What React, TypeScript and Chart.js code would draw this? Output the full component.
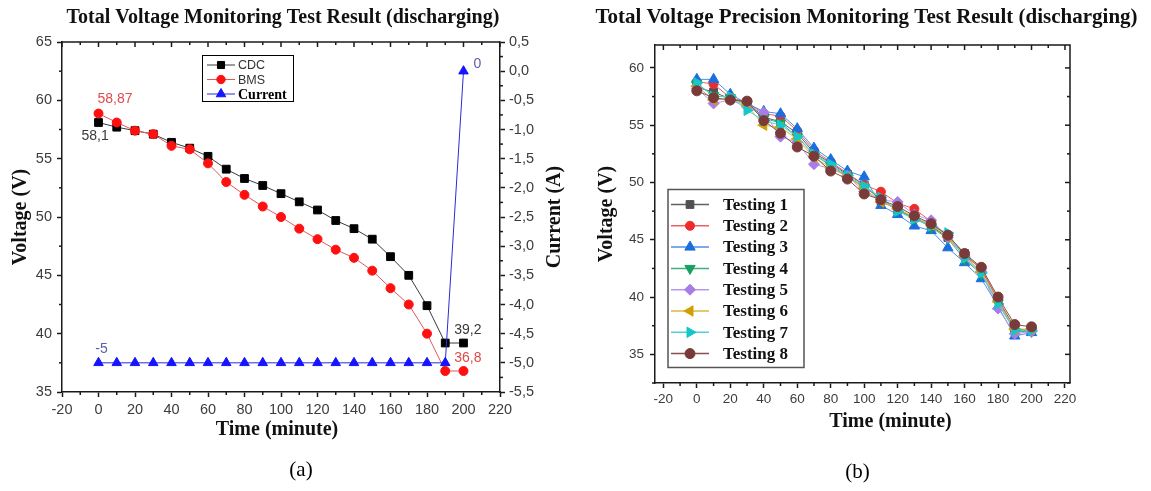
import React, { useEffect, useRef } from "react";
import { Chart, registerables } from "chart.js";

Chart.register(...registerables);

// ---------------- Panel (a) data ----------------
const timeMinutes = [0, 10, 20, 30, 40, 50, 60, 70, 80, 90, 100, 110, 120, 130, 140, 150, 160, 170, 180, 190, 200];
const cdcVoltage = [58.1, 57.7, 57.4, 57.1, 56.4, 55.9, 55.2, 54.1, 53.3, 52.7, 52.0, 51.3, 50.6, 49.7, 49.0, 48.1, 46.6, 45.0, 42.4, 39.2, 39.2];
const bmsVoltage = [58.87, 58.1, 57.4, 57.1, 56.1, 55.8, 54.6, 53.0, 51.9, 50.9, 50.0, 49.0, 48.1, 47.2, 46.5, 45.4, 43.9, 42.5, 40.0, 36.8, 36.8];
const currentAmps = [-5, -5, -5, -5, -5, -5, -5, -5, -5, -5, -5, -5, -5, -5, -5, -5, -5, -5, -5, -5, 0];
const seriesNamesA = ["CDC", "BMS", "Current"];

const timeTicks = [-20, 0, 20, 40, 60, 80, 100, 120, 140, 160, 180, 200, 220];
const timeMinorTicks = [-10, 10, 30, 50, 70, 90, 110, 130, 150, 170, 190, 210];
const voltageTicksA = [35, 40, 45, 50, 55, 60, 65];
const voltageMinorA = [37.5, 42.5, 47.5, 52.5, 57.5, 62.5];
const currentTicks = [-5.5, -5, -4.5, -4, -3.5, -3, -2.5, -2, -1.5, -1, -0.5, 0, 0.5];
const currentMinor = [-5.25, -4.75, -4.25, -3.75, -3.25, -2.75, -2.25, -1.75, -1.25, -0.75, -0.25, 0.25];

// ---------------- Panel (b) data ----------------
const testing1 = [58.3, 57.9, 57.3, 57.0, 55.7, 55.3, 54.3, 52.6, 51.7, 50.7, 49.8, 48.4, 47.6, 46.9, 46.2, 45.2, 43.8, 42.4, 39.8, 37.3, 37.0];
const testing2 = [58.8, 58.6, 57.4, 57.0, 56.0, 55.8, 54.5, 52.8, 51.8, 50.8, 49.8, 49.2, 48.2, 47.7, 46.6, 45.3, 43.6, 42.5, 39.7, 37.1, 37.1];
const testing3 = [59.0, 59.0, 57.7, 56.9, 56.2, 56.0, 54.7, 53.0, 52.0, 51.0, 50.5, 48.0, 47.2, 46.2, 45.8, 44.3, 43.0, 41.6, 39.2, 36.6, 36.9];
const testing4 = [58.6, 57.6, 57.4, 56.8, 55.6, 55.2, 54.0, 52.4, 51.5, 50.5, 49.6, 48.6, 47.6, 46.9, 46.1, 45.1, 43.3, 42.0, 39.5, 37.0, 37.0];
const testing5 = [58.2, 56.9, 57.2, 56.6, 56.1, 54.0, 53.5, 51.6, 51.2, 50.6, 49.2, 48.5, 48.3, 47.2, 46.7, 45.2, 43.5, 42.2, 39.0, 36.8, 37.0];
const testing6 = [58.4, 57.2, 57.3, 56.7, 55.0, 54.8, 53.8, 52.2, 51.3, 50.5, 49.5, 48.3, 47.7, 47.0, 46.3, 45.3, 43.6, 42.2, 39.6, 37.2, 37.2];
const testing7 = [58.7, 57.5, 57.5, 56.3, 55.4, 55.0, 54.0, 52.5, 51.6, 50.6, 49.7, 48.7, 47.5, 46.8, 46.2, 45.6, 43.4, 42.1, 39.4, 37.1, 37.1];
const testing8 = [58.0, 57.4, 57.2, 57.1, 55.4, 54.3, 53.1, 52.3, 51.0, 50.3, 49.0, 48.5, 47.9, 47.1, 46.4, 45.4, 43.8, 42.6, 40.0, 37.6, 37.4];
const testingSeries = [testing1, testing2, testing3, testing4, testing5, testing6, testing7, testing8];
const testingNames = ["Testing 1", "Testing 2", "Testing 3", "Testing 4", "Testing 5", "Testing 6", "Testing 7", "Testing 8"];
const voltageTicksB = [35, 40, 45, 50, 55, 60];
const voltageMinorB = [32.5, 37.5, 42.5, 47.5, 52.5, 57.5];

// ---------------- Styles ----------------
const SANS = "'Liberation Sans', Arial, sans-serif";
const SERIF = "'Liberation Serif', 'Times New Roman', serif";
const AXIS = "#1a1a1a";

const stylesB = [
  { color: "#505050", line: "#606060", shape: "rect", rot: 0, r: 5.5 },
  { color: "#ee2a2a", line: "#f06060", shape: "circle", rot: 0, r: 4.5 },
  { color: "#1a6fe0", line: "#4a90e8", shape: "triangle", rot: 0, r: 6 },
  { color: "#18a060", line: "#40b080", shape: "triangle", rot: 180, r: 6 },
  { color: "#a77ee8", line: "#b898ec", shape: "rectRot", rot: 0, r: 5.5 },
  { color: "#cfa100", line: "#d8b840", shape: "triangle", rot: -90, r: 6 },
  { color: "#16c6c8", line: "#50d4d6", shape: "triangle", rot: 90, r: 6 },
  { color: "#7a3a3a", line: "#8a5050", shape: "circle", rot: 0, r: 5 },
];

function drawMarker(ctx: CanvasRenderingContext2D, shape: string, rot: number, x: number, y: number, r: number, color: string) {
  ctx.save();
  ctx.fillStyle = color;
  ctx.strokeStyle = color;
  ctx.lineWidth = 1;
  ctx.beginPath();
  if (shape === "rect") {
    const s = r * Math.SQRT1_2;
    ctx.rect(x - s, y - s, 2 * s, 2 * s);
  } else if (shape === "circle") {
    ctx.arc(x, y, r, 0, Math.PI * 2);
  } else if (shape === "rectRot") {
    ctx.moveTo(x, y - r);
    ctx.lineTo(x + r, y);
    ctx.lineTo(x, y + r);
    ctx.lineTo(x - r, y);
    ctx.closePath();
  } else {
    let rad = (rot * Math.PI) / 180;
    ctx.moveTo(x + Math.sin(rad) * r, y - Math.cos(rad) * r);
    rad += (2 * Math.PI) / 3;
    ctx.lineTo(x + Math.sin(rad) * r, y - Math.cos(rad) * r);
    rad += (2 * Math.PI) / 3;
    ctx.lineTo(x + Math.sin(rad) * r, y - Math.cos(rad) * r);
    ctx.closePath();
  }
  ctx.fill();
  ctx.stroke();
  ctx.restore();
}

function text(ctx: CanvasRenderingContext2D, s: string, x: number, y: number, font: string, color: string, align: CanvasTextAlign = "center", rotate = false) {
  ctx.save();
  ctx.font = font;
  ctx.fillStyle = color;
  ctx.textAlign = align;
  ctx.textBaseline = "middle";
  ctx.translate(x, y);
  if (rotate) ctx.rotate(-Math.PI / 2);
  ctx.fillText(s, 0, 0);
  ctx.restore();
}

function ticks(ctx: CanvasRenderingContext2D, scale: any, values: number[], horizontal: boolean, base: number, len: number) {
  values.forEach((v) => {
    const p = scale.getPixelForValue(v);
    ctx.beginPath();
    if (horizontal) {
      ctx.moveTo(p, base);
      ctx.lineTo(p, base + len);
    } else {
      ctx.moveTo(base, p);
      ctx.lineTo(base + len, p);
    }
    ctx.stroke();
  });
}

const fmtComma = (v: number) => String(v).replace(".", ",");
const fmtComma1 = (v: number) => v.toFixed(1).replace(".", ",");

function axisBase(min: number, max: number, values: number[], fit: (s: any) => void, fontSize: number, pad: number, cb?: (v: number) => string) {
  return {
    type: "linear",
    min,
    max,
    afterBuildTicks: (s: any) => {
      s.ticks = values.map((v) => ({ value: v }));
    },
    afterFit: fit,
    grid: { display: true, drawOnChartArea: false, drawTicks: true, tickLength: 5, tickWidth: 1.5, tickColor: AXIS },
    border: { display: true, color: AXIS, width: 1.5 },
    ticks: {
      autoSkip: false,
      maxRotation: 0,
      padding: pad,
      color: "#3c3c3c",
      font: { family: SANS, size: fontSize },
      callback: cb ? (v: any) => cb(Number(v)) : (v: any) => String(v),
    },
  };
}

// ---------------- Plugins ----------------
const decorA = {
  id: "decorA",
  afterDraw(chart: any) {
    const ctx: CanvasRenderingContext2D = chart.ctx;
    const ca = chart.chartArea;
    const xs = chart.scales.x;
    const ys = chart.scales.y;
    const y1 = chart.scales.y1;
    ctx.save();
    ctx.strokeStyle = AXIS;
    ctx.lineWidth = 1.5;
    ctx.beginPath();
    ctx.moveTo(ca.left, ca.top);
    ctx.lineTo(ca.right, ca.top);
    ctx.stroke();
    ticks(ctx, xs, timeTicks, true, ca.top, 5);
    ticks(ctx, xs, timeMinorTicks, true, ca.top, 3);
    ticks(ctx, xs, timeMinorTicks, true, ca.bottom, 3);
    ticks(ctx, ys, voltageMinorA, false, ca.left, -3);
    ticks(ctx, y1, currentMinor, false, ca.right, 3);
    ctx.restore();

    // point annotations
    const px = (i: number) => xs.getPixelForValue(timeMinutes[i]);
    const last = timeMinutes.length - 1;
    const lab = `14px ${SANS}`;
    text(ctx, fmtComma(bmsVoltage[0]), px(0) - 1, ys.getPixelForValue(bmsVoltage[0]) - 14, lab, "#e04a4a", "left");
    text(ctx, fmtComma(cdcVoltage[0]), px(0) - 17, ys.getPixelForValue(cdcVoltage[0]) + 14, lab, "#3a3a3a", "left");
    text(ctx, fmtComma(currentAmps[0]), px(0) + 3, y1.getPixelForValue(currentAmps[0]) - 14, lab, "#5c5cae", "center");
    text(ctx, fmtComma(currentAmps[last]), px(last) + 14, y1.getPixelForValue(currentAmps[last]) - 7, lab, "#5c5cae", "center");
    text(ctx, fmtComma(cdcVoltage[last - 1]), px(last - 1) + 9, ys.getPixelForValue(cdcVoltage[last - 1]) - 13, lab, "#3a3a3a", "left");
    text(ctx, fmtComma(bmsVoltage[last - 1]), px(last - 1) + 9, ys.getPixelForValue(bmsVoltage[last - 1]) - 13, lab, "#e04a4a", "left");

    // legend
    const lx = ca.left + 140;
    const ly = ca.top + 13;
    const lw = 91;
    const lh = 46;
    ctx.save();
    ctx.strokeStyle = "#000";
    ctx.lineWidth = 1;
    ctx.strokeRect(lx + 0.5, ly + 0.5, lw, lh);
    const rows = [
      { y: ly + 10, line: "#3a3a3a", shape: "rect", r: 5, fill: "#000", font: `12.5px ${SANS}`, color: "#333" },
      { y: ly + 24.5, line: "#e05a5a", shape: "circle", r: 4.2, fill: "#ff1010", font: `12.5px ${SANS}`, color: "#333" },
      { y: ly + 39, line: "#2a2ad8", shape: "triangle", r: 5.5, fill: "#1414ff", font: `bold 14px ${SERIF}`, color: "#000" },
    ];
    rows.forEach((r, i) => {
      ctx.strokeStyle = r.line;
      ctx.lineWidth = 1;
      ctx.beginPath();
      ctx.moveTo(lx + 5, r.y);
      ctx.lineTo(lx + 33, r.y);
      ctx.stroke();
      drawMarker(ctx, r.shape, 0, lx + 19, r.y, r.r, r.fill);
      text(ctx, seriesNamesA[i], lx + 36, r.y + 1, r.font, r.color, "left");
    });
    ctx.restore();

    // titles
    const cx = (ca.left + ca.right) / 2;
    const cy = (ca.top + ca.bottom) / 2;
    text(ctx, "Total Voltage Monitoring Test Result (discharging)", cx + 2, 18, `bold 20px ${SERIF}`, "#111");
    text(ctx, "Voltage (V)", 21, cy, `bold 20px ${SERIF}`, "#111", "center", true);
    text(ctx, "Current (A)", ca.right + 55, cy, `bold 20px ${SERIF}`, "#111", "center", true);
    text(ctx, "Time (minute)", cx - 4, 430, `bold 20px ${SERIF}`, "#111");
    text(ctx, "(a)", cx + 20, 470, `21px ${SERIF}`, "#000");
  },
};

const decorB = {
  id: "decorB",
  afterDraw(chart: any) {
    const ctx: CanvasRenderingContext2D = chart.ctx;
    const ca = chart.chartArea;
    const xs = chart.scales.x;
    const ys = chart.scales.y;
    ctx.save();
    ctx.strokeStyle = AXIS;
    ctx.lineWidth = 1.5;
    ctx.beginPath();
    ctx.moveTo(ca.left, ca.top);
    ctx.lineTo(ca.right, ca.top);
    ctx.lineTo(ca.right, ca.bottom);
    ctx.stroke();
    ticks(ctx, xs, timeTicks, true, ca.top, 5);
    ticks(ctx, xs, timeMinorTicks, true, ca.top, 3);
    ticks(ctx, xs, timeMinorTicks, true, ca.bottom, 3);
    ticks(ctx, ys, voltageTicksB, false, ca.right, -5);
    ticks(ctx, ys, voltageMinorB, false, ca.right, -3);
    ticks(ctx, ys, voltageMinorB, false, ca.left, -3);
    ctx.restore();

    // legend
    const lx = ca.left + 13;
    const ly = ys.getPixelForValue(50) + 7;
    const lw = 136;
    const lh = 178;
    ctx.save();
    ctx.strokeStyle = "#555";
    ctx.lineWidth = 1.5;
    ctx.strokeRect(lx, ly, lw, lh);
    testingNames.forEach((name, i) => {
      const st = stylesB[i];
      const yy = ly + 15 + i * 21.3;
      ctx.strokeStyle = st.line;
      ctx.lineWidth = 1.5;
      ctx.beginPath();
      ctx.moveTo(lx + 3, yy);
      ctx.lineTo(lx + 41, yy);
      ctx.stroke();
      drawMarker(ctx, st.shape, st.rot, lx + 22, yy, st.r, st.color);
      text(ctx, name, lx + 55, yy + 1, `bold 17px ${SERIF}`, "#111", "left");
    });
    ctx.restore();

    const cx = (ca.left + ca.right) / 2;
    const cy = (ca.top + ca.bottom) / 2;
    text(ctx, "Total Voltage Precision Monitoring Test Result (discharging)", cx + 4, 18, `bold 21px ${SERIF}`, "#111");
    text(ctx, "Voltage (V)", 32, cy, `bold 20px ${SERIF}`, "#111", "center", true);
    text(ctx, "Time (minute)", cx + 28, 422, `bold 20px ${SERIF}`, "#111");
    text(ctx, "(b)", cx - 5, 472, `21px ${SERIF}`, "#000");
  },
};

function buildA(canvas: HTMLCanvasElement) {
  const W = 575;
  const H = 491;
  const left = 62;
  const right = 500;
  const top = 42;
  const bottom = 392;
  return new Chart(canvas, {
    type: "line",
    data: {
      datasets: [
        {
          label: seriesNamesA[0],
          data: timeMinutes.map((t, i) => ({ x: t, y: cdcVoltage[i] })),
          yAxisID: "y",
          order: 3,
          borderColor: "#3a3a3a",
          borderWidth: 1,
          pointStyle: "rect",
          pointRadius: 5.5,
          pointBackgroundColor: "#000",
          pointBorderColor: "#000",
          pointBorderWidth: 1,
        },
        {
          label: seriesNamesA[1],
          data: timeMinutes.map((t, i) => ({ x: t, y: bmsVoltage[i] })),
          yAxisID: "y",
          order: 2,
          borderColor: "#e05a5a",
          borderWidth: 1,
          pointStyle: "circle",
          pointRadius: 4.5,
          pointBackgroundColor: "#ff1010",
          pointBorderColor: "#ff1010",
          pointBorderWidth: 1,
        },
        {
          label: seriesNamesA[2],
          data: timeMinutes.map((t, i) => ({ x: t, y: currentAmps[i] })),
          yAxisID: "y1",
          order: 1,
          borderColor: "#2a2ad8",
          borderWidth: 1,
          pointStyle: "triangle",
          pointRadius: 5.5,
          pointBackgroundColor: "#1414ff",
          pointBorderColor: "#1414ff",
          pointBorderWidth: 1,
        },
      ],
    },
    options: {
      responsive: false,
      maintainAspectRatio: false,
      animation: false,
      events: [],
      layout: { padding: { top, left: 0, right: 0, bottom: 0 } },
      elements: { line: { tension: 0 } },
      plugins: { legend: { display: false }, tooltip: { enabled: false }, title: { display: false } },
      scales: {
        x: {
          ...axisBase(-20, 220, timeTicks, (s: any) => {
            s.height = H - bottom;
            s.paddingLeft = 0;
            s.paddingRight = 0;
          }, 14.5, 4),
          position: "bottom",
        },
        y: {
          ...axisBase(35, 65, voltageTicksA, (s: any) => {
            s.width = left;
            s.paddingTop = 0;
            s.paddingBottom = 0;
          }, 14.5, 5),
          position: "left",
        },
        y1: {
          ...axisBase(-5.5, 0.5, currentTicks, (s: any) => {
            s.width = W - right;
            s.paddingTop = 0;
            s.paddingBottom = 0;
          }, 14.5, 4, fmtComma1),
          position: "right",
        },
      },
    } as any,
    plugins: [decorA],
  } as any);
}

function buildB(canvas: HTMLCanvasElement) {
  const W = 576;
  const H = 491;
  const left = 80;
  const right = 495;
  const top = 45;
  const bottom = 383;
  return new Chart(canvas, {
    type: "line",
    data: {
      datasets: testingSeries.map((vals, i) => ({
        label: testingNames[i],
        data: timeMinutes.map((t, j) => ({ x: t, y: vals[j] })),
        order: 8 - i,
        borderColor: stylesB[i].line,
        borderWidth: 1,
        pointStyle: stylesB[i].shape,
        rotation: stylesB[i].rot,
        pointRadius: stylesB[i].r,
        pointBackgroundColor: stylesB[i].color,
        pointBorderColor: stylesB[i].color,
        pointBorderWidth: 1,
      })),
    },
    options: {
      responsive: false,
      maintainAspectRatio: false,
      animation: false,
      events: [],
      layout: { padding: { top, left: 0, right: W - right, bottom: 0 } },
      elements: { line: { tension: 0 } },
      plugins: { legend: { display: false }, tooltip: { enabled: false }, title: { display: false } },
      scales: {
        x: {
          ...axisBase(-25, 223, timeTicks, (s: any) => {
            s.height = H - bottom;
            s.paddingLeft = 0;
            s.paddingRight = 0;
          }, 13.5, 3),
          position: "bottom",
        },
        y: {
          ...axisBase(32.5, 62, voltageTicksB, (s: any) => {
            s.width = left;
            s.paddingTop = 0;
            s.paddingBottom = 0;
          }, 13.5, 6),
          position: "left",
        },
      },
    } as any,
    plugins: [decorB],
  } as any);
}

export default function App() {
  const refA = useRef<HTMLCanvasElement>(null);
  const refB = useRef<HTMLCanvasElement>(null);
  useEffect(() => {
    const a = buildA(refA.current!);
    const b = buildB(refB.current!);
    return () => {
      a.destroy();
      b.destroy();
    };
  }, []);
  return (
    <div style={{ position: "absolute", left: 0, top: 0, width: 1151, height: 491, background: "#fff", overflow: "hidden" }}>
      <canvas ref={refA} width={575} height={491} style={{ position: "absolute", left: 0, top: 0, width: 575, height: 491 }} />
      <canvas ref={refB} width={576} height={491} style={{ position: "absolute", left: 575, top: 0, width: 576, height: 491 }} />
    </div>
  );
}
